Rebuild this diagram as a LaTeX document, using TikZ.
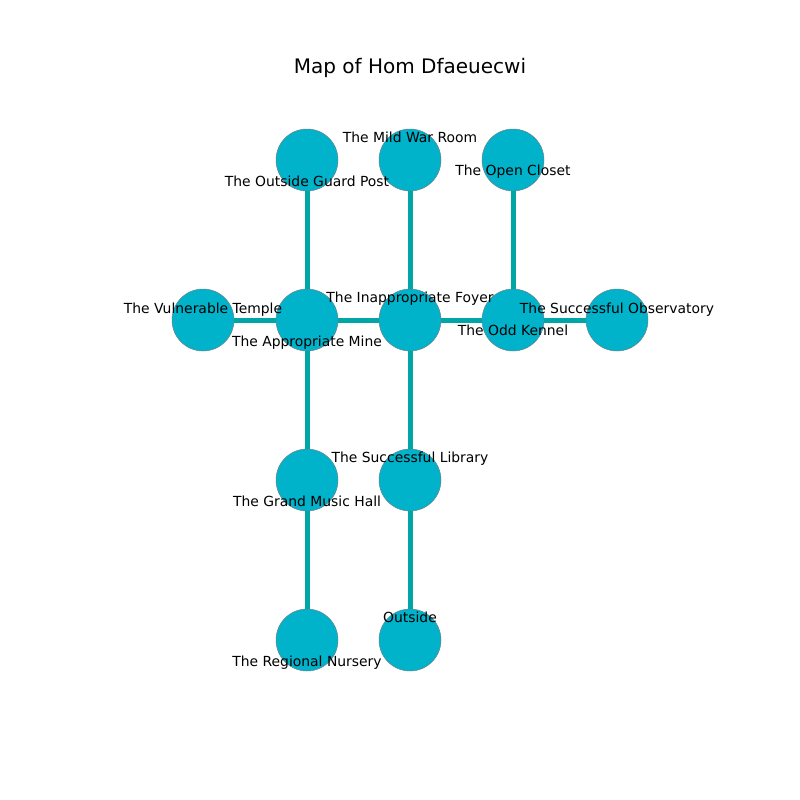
\documentclass[tikz,border=0pt]{standalone}
\usepackage{fontspec}
\setmainfont{DejaVu Sans}
\definecolor{roomfill}{RGB}{0,178,202}
\definecolor{edgecol}{RGB}{0,166,166}
\definecolor{roomedge}{RGB}{110,130,140}
\begin{document}
\begin{tikzpicture}[x=1pt,y=-1pt,
  room/.style={circle,fill=roomfill,draw=roomedge,line width=0.5pt,minimum size=62pt,inner sep=0pt},
  lab/.style={font=\fontsize{13.9}{14}\selectfont,inner sep=0pt,anchor=base},
  link/.style={draw=edgecol,line width=5pt}]
\useasboundingbox (0,0) rectangle (800,800);
\node[font=\fontsize{20}{22}\selectfont,inner sep=0pt,anchor=base] (title) at (410,74) {Map of Hom Dfaeuecwi};
% rooms
\node[room] (guard) at (307,160) {};
\node[room] (war) at (410,160) {};
\node[room] (closet) at (513,160) {};
\node[room] (temple) at (203,320) {};
\node[room] (mine) at (307,320) {};
\node[room] (foyer) at (410,320) {};
\node[room] (kennel) at (513,320) {};
\node[room] (obs) at (617,320) {};
\node[room] (music) at (307,480) {};
\node[room] (library) at (410,480) {};
\node[room] (nursery) at (307,640) {};
\node[room] (outside) at (410,640) {};
% edges
\path[link] (guard) -- (mine);
\path[link] (war) -- (foyer);
\path[link] (closet) -- (kennel);
\path[link] (temple) -- (mine);
\path[link] (mine) -- (foyer);
\path[link] (foyer) -- (kennel);
\path[link] (kennel) -- (obs);
\path[link] (mine) -- (music);
\path[link] (foyer) -- (library);
\path[link] (music) -- (nursery);
\path[link] (library) -- (outside);
% labels
\node[lab] (lguard) at (307,186) {The Outside Guard Post};
\node[lab] (lwar) at (410,142) {The Mild War Room};
\node[lab] (lcloset) at (513,175) {The Open Closet};
\node[lab] (ltemple) at (203,313) {The Vulnerable Temple};
\node[lab] (lmine) at (307,346) {The Appropriate Mine};
\node[lab] (lfoyer) at (410,302) {The Inappropriate Foyer};
\node[lab] (lkennel) at (513,335) {The Odd Kennel};
\node[lab] (lobs) at (617,313) {The Successful Observatory};
\node[lab] (llibrary) at (410,462) {The Successful Library};
\node[lab] (lmusic) at (307,506) {The Grand Music Hall};
\node[lab] (loutside) at (410,622) {Outside};
\node[lab] (lnursery) at (307,666) {The Regional Nursery};
\end{tikzpicture}
\end{document}
